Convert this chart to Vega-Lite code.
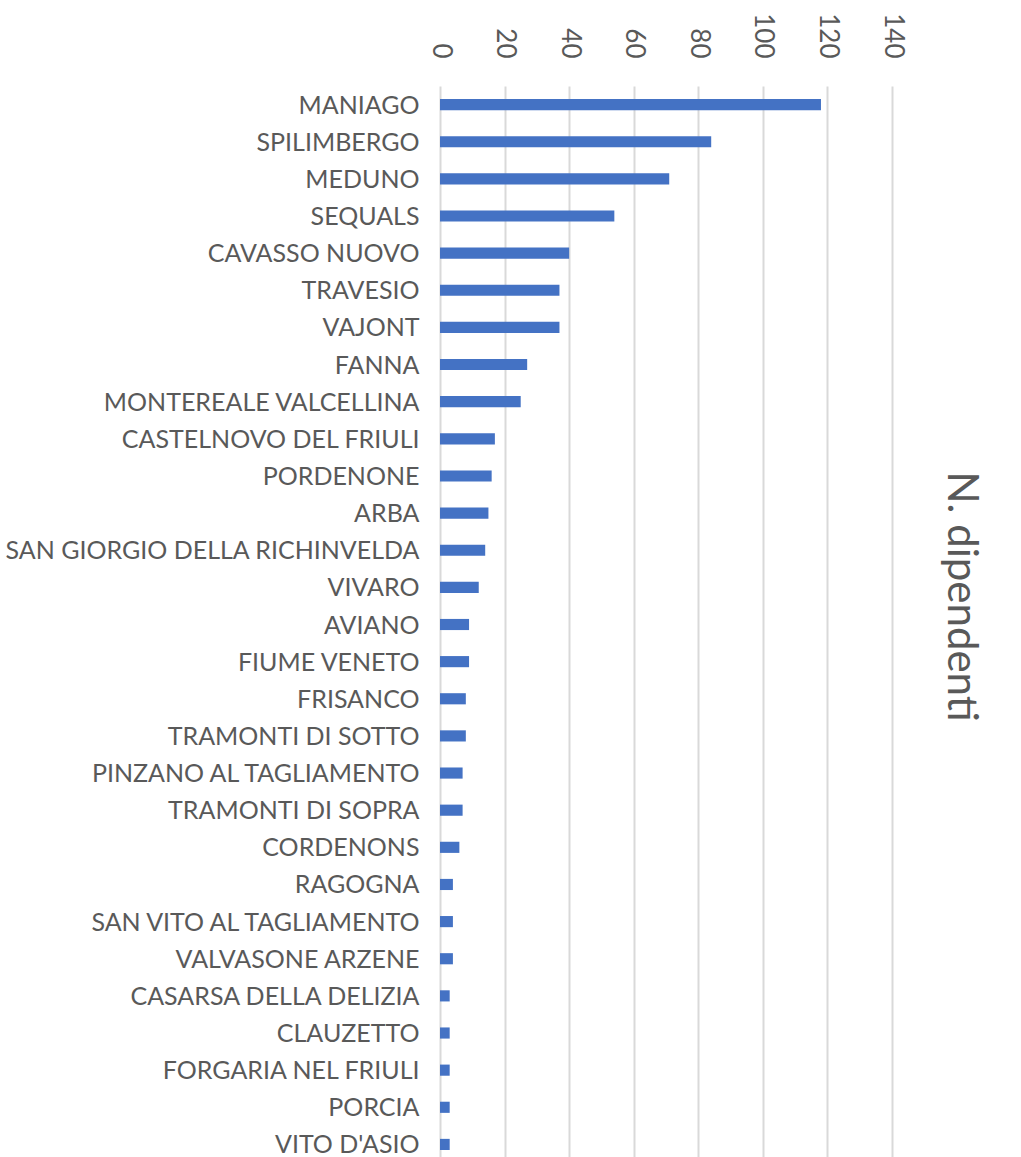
{
  "$schema": "https://vega.github.io/schema/vega-lite/v6.json",
  "autosize": {"type": "none"},
  "padding": {"left": 440, "top": 86, "right": 129, "bottom": 0},
  "width": 452,
  "height": 1077,
  "background": "white",
  "data": {
    "values": [
      {"comune": "MANIAGO", "dipendenti": 118},
      {"comune": "SPILIMBERGO", "dipendenti": 84},
      {"comune": "MEDUNO", "dipendenti": 71},
      {"comune": "SEQUALS", "dipendenti": 54},
      {"comune": "CAVASSO NUOVO", "dipendenti": 40},
      {"comune": "TRAVESIO", "dipendenti": 37},
      {"comune": "VAJONT", "dipendenti": 37},
      {"comune": "FANNA", "dipendenti": 27},
      {"comune": "MONTEREALE VALCELLINA", "dipendenti": 25},
      {"comune": "CASTELNOVO DEL FRIULI", "dipendenti": 17},
      {"comune": "PORDENONE", "dipendenti": 16},
      {"comune": "ARBA", "dipendenti": 15},
      {"comune": "SAN GIORGIO DELLA RICHINVELDA", "dipendenti": 14},
      {"comune": "VIVARO", "dipendenti": 12},
      {"comune": "AVIANO", "dipendenti": 9},
      {"comune": "FIUME VENETO", "dipendenti": 9},
      {"comune": "FRISANCO", "dipendenti": 8},
      {"comune": "TRAMONTI DI SOTTO", "dipendenti": 8},
      {"comune": "PINZANO AL TAGLIAMENTO", "dipendenti": 7},
      {"comune": "TRAMONTI DI SOPRA", "dipendenti": 7},
      {"comune": "CORDENONS", "dipendenti": 6},
      {"comune": "RAGOGNA", "dipendenti": 4},
      {"comune": "SAN VITO AL TAGLIAMENTO", "dipendenti": 4},
      {"comune": "VALVASONE ARZENE", "dipendenti": 4},
      {"comune": "CASARSA DELLA DELIZIA", "dipendenti": 3},
      {"comune": "CLAUZETTO", "dipendenti": 3},
      {"comune": "FORGARIA NEL FRIULI", "dipendenti": 3},
      {"comune": "PORCIA", "dipendenti": 3},
      {"comune": "VITO D'ASIO", "dipendenti": 3}
    ]
  },
  "mark": {"type": "bar", "color": "#4472C4"},
  "encoding": {
    "y": {
      "field": "comune",
      "type": "nominal",
      "sort": null,
      "scale": {"paddingInner": 0.7, "paddingOuter": 0.35},
      "axis": {
        "title": null,
        "domain": false,
        "ticks": false,
        "grid": false,
        "labelPadding": 21,
        "labelOffset": 1,
        "labelFont": "Lato",
        "labelFontSize": 25,
        "labelColor": "#595959",
        "labelLimit": 500
      }
    },
    "x": {
      "field": "dipendenti",
      "type": "quantitative",
      "scale": {"domain": [0, 140], "nice": false},
      "axis": {
        "orient": "top",
        "values": [0, 20, 40, 60, 80, 100, 120, 140],
        "domain": false,
        "ticks": false,
        "grid": true,
        "gridColor": "#d9d9d9",
        "gridWidth": 2,
        "labelAngle": 90,
        "labelAlign": "right",
        "labelBaseline": "middle",
        "labelPadding": 28,
        "labelFont": "Lato",
        "labelFontSize": 26,
        "labelColor": "#595959",
        "title": "N. dipendenti",
        "titleFont": "Lato",
        "titleFontSize": 42,
        "titleFontWeight": "normal",
        "titleColor": "#595959",
        "titleAngle": 90,
        "titleAlign": "center",
        "titleBaseline": "alphabetic",
        "titleX": 507,
        "titleY": 510
      }
    }
  },
  "config": {"view": {"stroke": null}}
}
